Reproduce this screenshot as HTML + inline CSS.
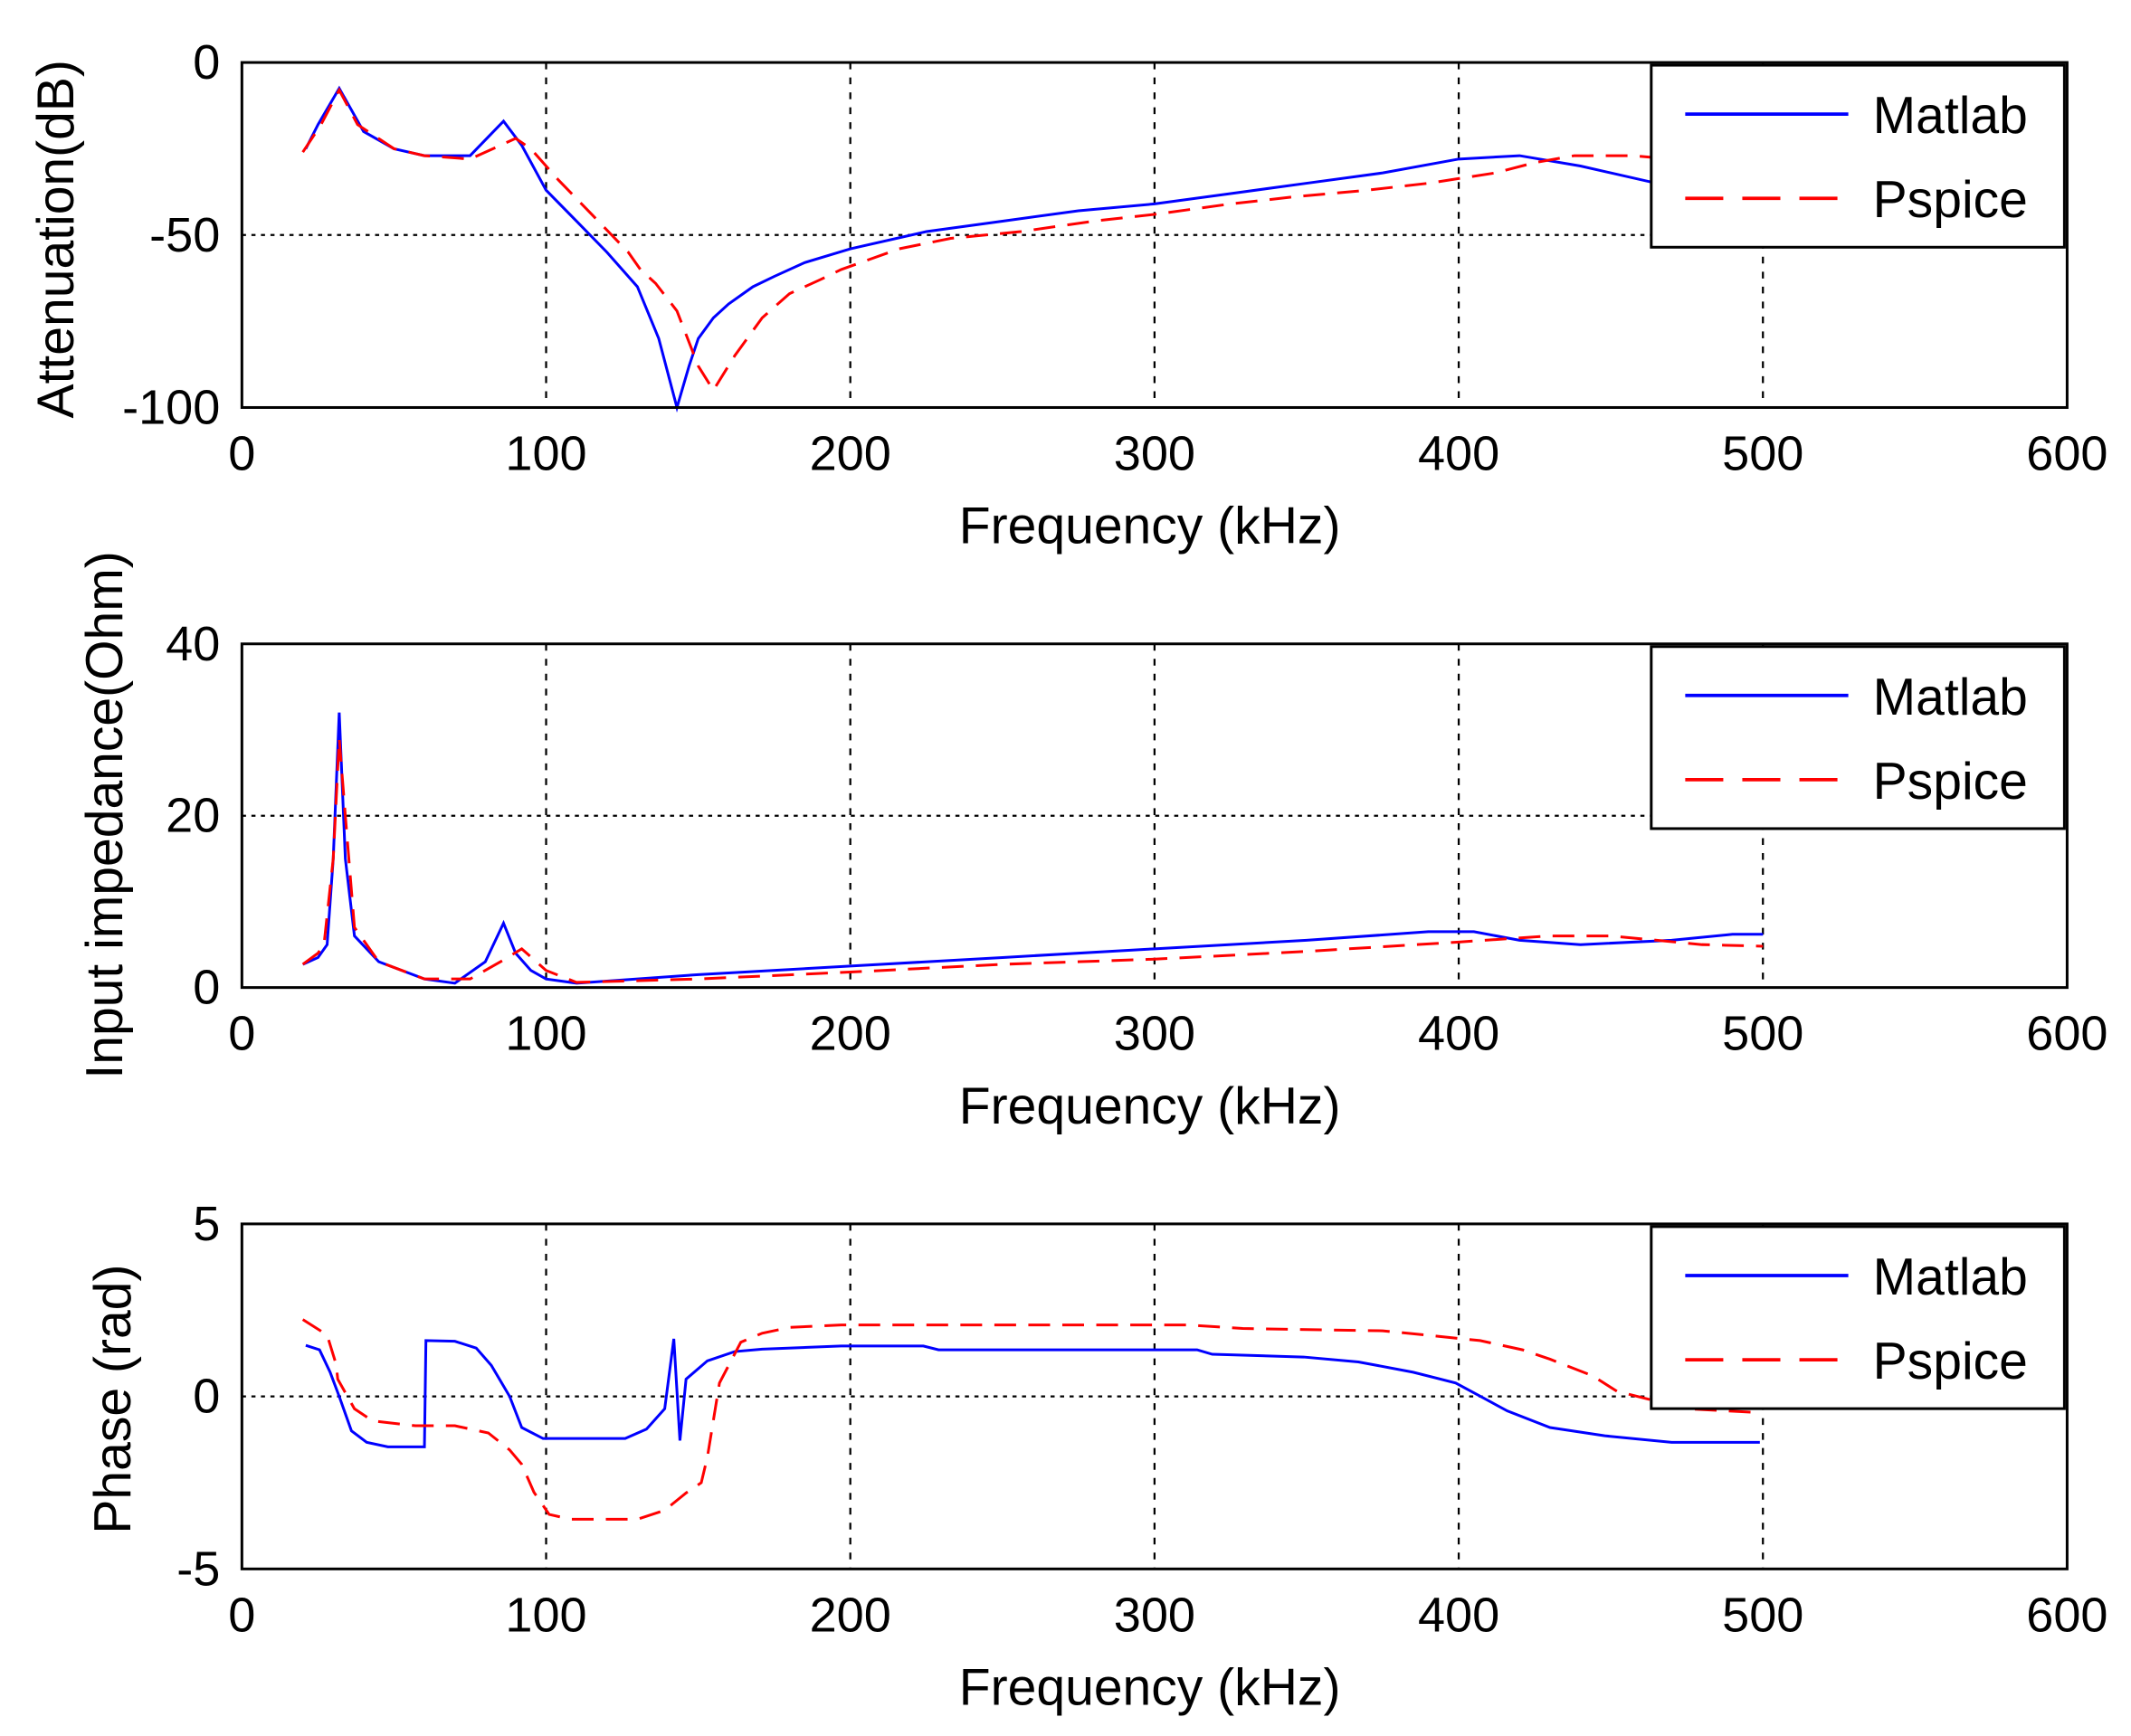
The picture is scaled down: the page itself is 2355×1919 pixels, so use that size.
<!DOCTYPE html>
<html><head><meta charset="utf-8">
<style>
html,body{margin:0;padding:0;background:#fff;}
svg{display:block;}
text{font-family:"Liberation Sans",Arial,sans-serif;fill:#000;}
</style></head>
<body>
<svg id="fig" width="2355" height="1919" viewBox="0 0 1568 1278" preserveAspectRatio="none" xmlns="http://www.w3.org/2000/svg"></svg>
<script>
// shared x axis
const xTicks = [0,100,200,300,400,500,600];
// Chart 1: attenuation (dB)
const att_yTicks = [0,-50,-100];
const att_matlab_f = [21,25,32,40,50,60,75,86,92,100,110,120,130,137,143,147,150,155,160,168,175,185,200,225,250,275,300,325,350,375,400,420,440,465,500];
const att_matlab_v = [-25,-18,-7.5,-20,-25,-27,-27,-17,-24,-37,-46,-55,-65,-80,-100,-88,-80,-74,-70,-65,-62,-58,-54,-49,-46,-43,-41,-38,-35,-32,-28,-27,-30,-35,-38];
const att_pspice_f = [20,26,32,38,50,60,75,85,90,95,104,115,127,131,136,143,150,155,162,171,180,190,197,216,233,256,280,300,325,345,370,390,412,425,438,457,470];
const att_pspice_v = [-26,-18,-8,-18,-25,-27,-28,-24,-22,-25,-34,-44,-55,-60,-64,-72,-88,-95,-85,-74,-67,-63,-60,-54,-51,-49,-46,-44,-41,-39,-37,-35,-32,-29,-27,-27,-28];
// Chart 2: input impedance (Ohm)
const imp_yTicks = [0,20,40];
const imp_matlab_f = [20,25,28,30,32,34,37,45,60,70,80,86,90,95,100,110,150,200,250,300,350,390,405,420,440,470,490,500];
const imp_matlab_v = [2.7,3.5,5,15,32,15,6,3,1,0.5,3,7.5,4,2,1,0.5,1.5,2.5,3.5,4.5,5.5,6.5,6.5,5.5,5,5.5,6.2,6.2];
const imp_pspice_f = [20,25,27,30,32,34,37,45,60,75,85,92,100,110,150,200,250,300,350,400,430,450,480,500];
const imp_pspice_v = [2.7,4,5,15,29,20,7,3,1,1,3,4.5,2,0.6,1,1.8,2.7,3.3,4.2,5.3,6,6,5,4.8];
// Chart 3: phase (rad)
const ph_yTicks = [5,0,-5];
const ph_matlab_f = [21,25.5,29,32,36,41,48,60,60.5,70,77,82,88,92,99,126,133,139,142,144,146,153,162,171,197,224,229,314,319,349,367,385,399,408,416,430,448,470,499];
const ph_matlab_v = [1.48,1.35,0.7,0,-1.0,-1.33,-1.46,-1.46,1.62,1.6,1.4,0.9,0,-0.9,-1.22,-1.22,-0.95,-0.36,1.67,-1.28,0.5,1.03,1.3,1.37,1.46,1.46,1.35,1.35,1.22,1.14,1.0,0.7,0.39,-0.04,-0.42,-0.9,-1.14,-1.33,-1.33];
const ph_pspice_f = [20,28,31,31.5,37,43,57,70,81,88,92,96,101,108,130,139,146,151,153,157,164,171,180,197,311,329,375,389,407,421,430,444,452,475,499];
const ph_pspice_v = [2.23,1.78,0.92,0.5,-0.36,-0.71,-0.85,-0.85,-1.06,-1.55,-1.97,-2.78,-3.42,-3.56,-3.56,-3.3,-2.8,-2.5,-1.76,0.39,1.57,1.83,2.0,2.07,2.07,1.97,1.9,1.78,1.62,1.35,1.08,0.6,0.15,-0.36,-0.47];

const NS="http://www.w3.org/2000/svg";
const svg=document.getElementById('fig');
const X0=178,X1=1521;
function xs(f){return X0+(f-0)/(600-0)*(X1-X0);}
function mk(tag,attrs,parent){const e=document.createElementNS(NS,tag);for(const k in attrs)e.setAttribute(k,attrs[k]);(parent||svg).appendChild(e);return e;}

function chart(cfg){
  const g=mk('g',{});
  
  
  const ys=v=>cfg.top+(cfg.ymax-v)/(cfg.ymax-cfg.ymin)*(cfg.bot-cfg.top);
  mk('rect',{x:X0,y:cfg.top,width:X1-X0,height:cfg.bot-cfg.top,fill:'#fff'},g);
  // grid
  xTicks.forEach(t=>{ if(t>0&&t<600){const l=mk('line',{x1:xs(t),x2:xs(t),y1:cfg.top,y2:cfg.bot,stroke:'#000','stroke-width':1.5,'stroke-dasharray':'5 6'},g);
    
    }});
  cfg.yTicks.forEach(t=>{const l=mk('line',{x1:X0,x2:X1,y1:ys(t),y2:ys(t),stroke:'#000','stroke-width':1.5,'stroke-dasharray':'3 4'},g);
    
    
    const tx=mk('text',{x:162,y:ys(t)+12,'font-size':36,'text-anchor':'end'},g);tx.textContent=t;
    
    });
  xTicks.forEach(t=>{const tx=mk('text',{x:xs(t),y:cfg.bot+46,'font-size':36,'text-anchor':'middle'},g);tx.textContent=t;
    
    });
  // series
  const path=(fs,vs)=>fs.map((f,i)=>(i?'L':'M')+xs(f).toFixed(1)+' '+ys(vs[i]).toFixed(1)).join(' ');
  const b=mk('path',{d:path(cfg.mf,cfg.mv),fill:'none',stroke:'#0000ff','stroke-width':2},g);
  
  
  const r=mk('path',{d:path(cfg.pf,cfg.pv),fill:'none',stroke:'#ff0000','stroke-width':2,'stroke-dasharray':'16 9'},g);
  
  
  // box
  mk('rect',{x:X0,y:cfg.top,width:X1-X0,height:cfg.bot-cfg.top,fill:'none',stroke:'#000','stroke-width':2},g);
  // legend
  const lg=mk('g',{},g);
  
  
  mk('rect',{x:1215,y:cfg.top+2,width:304,height:134,fill:'#fff',stroke:'#000','stroke-width':2},lg);
  mk('line',{x1:1240,x2:1360,y1:cfg.top+38,y2:cfg.top+38,stroke:'#0000ff','stroke-width':2.5},lg);
  mk('line',{x1:1240,x2:1360,y1:cfg.top+100,y2:cfg.top+100,stroke:'#ff0000','stroke-width':2.5,'stroke-dasharray':'28 14'},lg);
  const t1=mk('text',{x:1378,y:cfg.top+52,'font-size':38},lg);t1.textContent='Matlab';
  
  
  const t2=mk('text',{x:1378,y:cfg.top+114,'font-size':38},lg);t2.textContent='Pspice';
  
  
  // labels
  const xl=mk('text',{x:846,y:cfg.bot+100,'font-size':38,'text-anchor':'middle'},g);xl.textContent='Frequency (kHz)';
  
  
  const yl=mk('text',{x:0,y:0,'font-size':38,'text-anchor':'middle',transform:`translate(${cfg.ylx},${cfg.yly}) rotate(-90)`},g);yl.textContent=cfg.ylabel;
  
  
}
chart({name:'attenuation-chart',top:46,bot:300,ymax:0,ymin:-100,yTicks:att_yTicks,mf:att_matlab_f,mv:att_matlab_v,pf:att_pspice_f,pv:att_pspice_v,ylabel:'Attenuation(dB)',ylx:54,yly:176});
chart({name:'impedance-chart',top:474,bot:727,ymax:40,ymin:0,yTicks:imp_yTicks,mf:imp_matlab_f,mv:imp_matlab_v,pf:imp_pspice_f,pv:imp_pspice_v,ylabel:'Input impedance(Ohm)',ylx:90,yly:600});
chart({name:'phase-chart',top:901,bot:1155,ymax:5,ymin:-5,yTicks:ph_yTicks,mf:ph_matlab_f,mv:ph_matlab_v,pf:ph_pspice_f,pv:ph_pspice_v,ylabel:'Phase (rad)',ylx:96,yly:1030});
</script>
</body></html>
